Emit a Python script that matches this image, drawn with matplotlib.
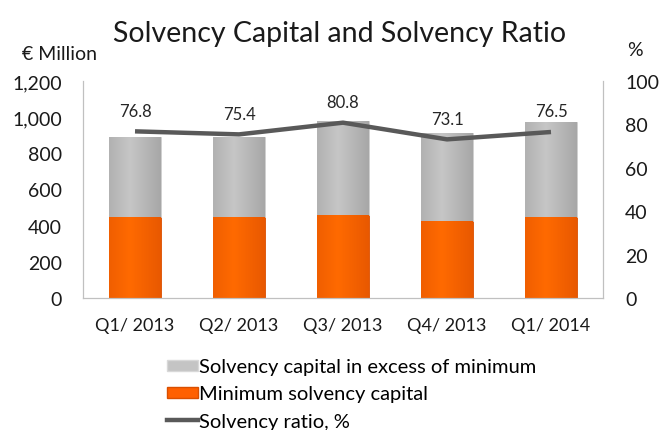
import matplotlib
matplotlib.use("Agg")
import matplotlib.pyplot as plt
import numpy as np
from matplotlib.ticker import FuncFormatter
from matplotlib.colors import LinearSegmentedColormap
from matplotlib.patches import Patch
from matplotlib.lines import Line2D

categories = ["Q1/ 2013", "Q2/ 2013", "Q3/ 2013", "Q4/ 2013", "Q1/ 2014"]
minimum_capital = [446, 446, 460, 427, 446]
excess_capital = [442, 447, 520, 488, 530]
solvency_ratio = [76.8, 75.4, 80.8, 73.1, 76.5]
left_ticks = [0, 200, 400, 600, 800, 1000, 1200]
right_ticks = [0, 20, 40, 60, 80, 100]

plt.rcParams['font.family'] = ['Lato', 'DejaVu Sans']

W, H = 659, 431
fig = plt.figure(figsize=(W / 100, H / 100), dpi=100)
ax = fig.add_axes([83 / W, 1 - 299 / H, (603 - 83) / W, (299 - 82) / H])
ax2 = ax.twinx()

x = np.arange(len(categories))
w = 0.5
orange = "#ff6000"
b1 = ax.bar(x, minimum_capital, w, color=orange, edgecolor="#d94f00", linewidth=0.6, zorder=2)
b2 = ax.bar(x, excess_capital, w, bottom=minimum_capital, color="#b4b4b4",
            edgecolor="#cfcfcf", linewidth=0.6, zorder=2)


def shade(bars, c_light, c_dark):
    grad = np.linspace(0, 1, 64)
    prof = 1 - np.abs(grad - 0.4) * 1.2
    cmap = LinearSegmentedColormap.from_list("g", [c_dark, c_light])
    for p in bars:
        x0, y0 = p.get_x(), p.get_y()
        ww, hh = p.get_width(), p.get_height()
        im = ax.imshow(prof[np.newaxis, :], cmap=cmap, aspect="auto",
                       extent=[x0, x0 + ww, y0, y0 + hh], zorder=2.5, vmin=0, vmax=1)
        im.set_clip_path(p)


shade(b1, "#ff6a00", "#e05200")
shade(b2, "#c6c6c6", "#9c9c9c")

ax.set_xlim(-0.5, len(categories) - 0.5)
ax.set_ylim(0, 1200)
ax.set_yticks(left_ticks)
ax.yaxis.set_major_formatter(FuncFormatter(lambda v, p: f"{int(v):,}"))
ax.set_xticks(x)
ax.set_xticklabels(categories)

ax2.plot(x, solvency_ratio, color="#595959", linewidth=3.2, zorder=5, solid_capstyle="butt")
ax2.set_ylim(0, 100)
ax2.set_yticks(right_ticks)
for xi, v in zip(x, solvency_ratio):
    ax2.annotate(f"{v:.1f}", (xi, v), xytext=(0, 15), textcoords="offset points",
                 ha="center", va="center", fontsize=12, color="#262626")

for a in (ax, ax2):
    a.tick_params(length=0, labelsize=14, colors="#1a1a1a")
    for s in a.spines.values():
        s.set_color("#c0c0c0")
    a.spines["top"].set_visible(False)
ax.tick_params(axis="y", pad=15)
ax2.tick_params(axis="y", pad=16)
ax.tick_params(axis="x", pad=14, labelsize=13)

fig.text(340 / W, 1 - 34 / H, "Solvency Capital and Solvency Ratio", ha="center", va="center",
         fontsize=20.5, color="#1a1a1a")
fig.text(59 / W, 1 - 55 / H, "€ Million", ha="center", va="center", fontsize=14, color="#1a1a1a")
fig.text(635 / W, 1 - 50 / H, "%", ha="center", va="center", fontsize=14, color="#1a1a1a")

handles = [Patch(facecolor="#c4c4c4", edgecolor="#d8d8d8"),
           Patch(facecolor=orange, edgecolor="#d94f00"),
           Line2D([0], [0], color="#595959", linewidth=3.2)]
labels = ["Solvency capital in excess of minimum", "Minimum solvency capital", "Solvency ratio, %"]
fig.legend(handles, labels, loc="center left", bbox_to_anchor=(167 / W, 1 - 395 / H),
           frameon=False, fontsize=14.5, handlelength=1.55, handleheight=0.45,
           handletextpad=0.05, labelspacing=0.5, borderaxespad=0, borderpad=0)

fig.savefig("out.png", dpi=100)
